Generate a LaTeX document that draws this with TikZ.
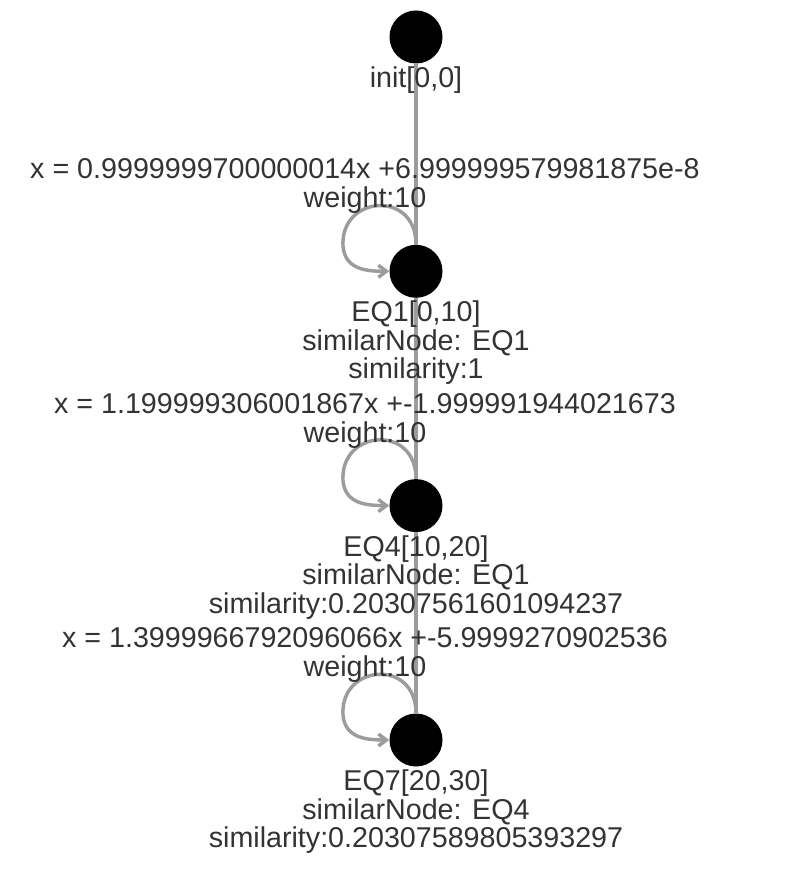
\documentclass[tikz,border=0pt]{standalone}
\usepackage{fontspec}
\setmainfont{Liberation Sans}
\usetikzlibrary{positioning, calc, arrows.meta}
\definecolor{inkgray}{HTML}{333333}
\definecolor{edgegray}{HTML}{9C9C9C}

\begin{document}
\begin{tikzpicture}[
    x=0.75pt, y=-0.75pt,
    state/.style={circle, fill=black, inner sep=0pt, minimum size=39.75pt},
    nlabel/.style={align=center, inner sep=0pt, text=inkgray, font=\fontsize{21.5}{21.4}\selectfont},
    elabel/.style={nlabel, anchor=base},
    edge/.style={draw=edgegray, line width=3pt},
    selfloop/.style={draw=edgegray, line width=2.6pt, -{Straight Barb[length=6pt, width=9pt]}},
]
\useasboundingbox (0,0) rectangle (809,877);

% Draw the states
\node[state] (init) at (416,37) {};
\node[state] (EQ1) at (416,271.3) {};
\node[state] (EQ4) at (416,505.6) {};
\node[state] (EQ7) at (416,740) {};

% Draw the transitions
\draw[edge] (init.south) -- (EQ1.north);
\draw[edge] (EQ1.south) -- (EQ4.north);
\draw[edge] (EQ4.south) -- (EQ7.north);
\foreach \n in {EQ1, EQ4, EQ7}
    \draw[selfloop] (\n.north) .. controls ($(\n)+(0,-82)$) and ($(\n)+(-76,-76)$) .. ($(\n)+(-73,-25)$)
        .. controls ($(\n)+(-71,-2)$) and ($(\n)+(-50,0)$) .. (\n.west);

% Draw the state labels
\node[nlabel, below=2pt of init] (initlbl) {init[0,0]};
\node[nlabel, below=2pt of EQ1] (EQ1lbl) {EQ1[0,10]\\similarNode: EQ1\\similarity:1};
\node[nlabel, below=2pt of EQ4] (EQ4lbl) {EQ4[10,20]\\similarNode: EQ1\\similarity:0.20307561601094237};
\node[nlabel, below=2pt of EQ7] (EQ7lbl) {EQ7[20,30]\\similarNode: EQ4\\similarity:0.20307589805393297};

% Draw the transition labels (base is the last line)
\node[elabel] (e1lbl) at (365,207.5) {x = 0.9999999700000014x +6.999999579981875e-8\\weight:10};
\node[elabel] (e2lbl) at (365,442) {x = 1.199999306001867x +-1.999991944021673\\weight:10};
\node[elabel] (e3lbl) at (365,676.5) {x = 1.3999966792096066x +-5.9999270902536\\weight:10};

\end{tikzpicture}
\end{document}
